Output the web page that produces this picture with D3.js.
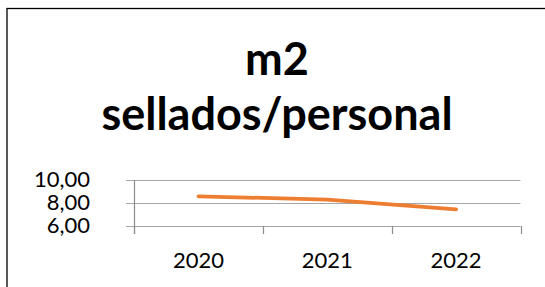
<!DOCTYPE html>
<html>
<head>
<meta charset="utf-8">
<script src="https://cdn.jsdelivr.net/npm/d3@7"></script>
<style>
  body { margin: 0; background: #fff; }
  text { font-family: Lato, "Liberation Sans", sans-serif; fill: #000; }
</style>
</head>
<body>
<div id="body"></div>
<script>
var years = ["2020", "2021", "2022"];
var values = [8.58, 8.3, 7.45];
var yTicks = [6, 8, 10];
var titleLines = ["m2", "sellados/personal"];

var width = 545;
var height = 287;
var plot = { left: 134, right: 520.5, top: 180, bottom: 226 };

var svg = d3.select("#body")
  .append("svg")
  .attr("width", width)
  .attr("height", height);

svg.append("rect")
  .attr("x", 7)
  .attr("y", 8.5)
  .attr("width", 600)
  .attr("height", 400)
  .attr("fill", "#fff")
  .attr("stroke", "#000")
  .attr("stroke-width", 1.3);

// title
svg.append("g")
  .selectAll("text")
  .data(titleLines)
  .enter()
  .append("text")
  .attr("x", 277)
  .attr("y", function(d, i) { return 75 + i * 55; })
  .attr("text-anchor", "middle")
  .attr("font-weight", "bold")
  .attr("font-size", 45)
  .text(function(d) { return d; });

var x = d3.scaleBand()
  .domain(years)
  .range([plot.left, plot.right]);

var y = d3.scaleLinear()
  .domain([6, 10])
  .range([plot.bottom, plot.top]);

var grid = "#a6a6a6";

// gridlines
svg.append("g")
  .selectAll("line")
  .data(yTicks)
  .enter()
  .append("line")
  .attr("x1", plot.left - 8)
  .attr("x2", plot.right)
  .attr("y1", function(d) { return Math.round(y(d)) + 0.5; })
  .attr("y2", function(d) { return Math.round(y(d)) + 0.5; })
  .attr("stroke", grid)
  .attr("stroke-width", 1.2);

// y axis line
svg.append("line")
  .attr("x1", plot.left + 0.5)
  .attr("x2", plot.left + 0.5)
  .attr("y1", y(10))
  .attr("y2", y(6) + 8)
  .attr("stroke", "#8c8c8c")
  .attr("stroke-width", 1.2);

// x tick marks at band edges
var edges = years.map(function(d) { return x(d); }).concat([plot.right]);
svg.append("g")
  .selectAll("line")
  .data(edges)
  .enter()
  .append("line")
  .attr("x1", function(d) { return Math.round(d) + 0.5; })
  .attr("x2", function(d) { return Math.round(d) + 0.5; })
  .attr("y1", Math.round(y(6)))
  .attr("y2", Math.round(y(6)) + 8)
  .attr("stroke", "#8c8c8c")
  .attr("stroke-width", 1.2);

// y labels
svg.append("g")
  .selectAll("text")
  .data(yTicks)
  .enter()
  .append("text")
  .attr("x", 90)
  .attr("y", function(d) { return y(d); })
  .attr("dy", "0.34em")
  .attr("text-anchor", "end")
  .attr("font-size", 22)
  .text(function(d) { return d3.format(".2f")(d).replace(".", ","); });

// x labels
svg.append("g")
  .selectAll("text")
  .data(years)
  .enter()
  .append("text")
  .attr("x", function(d) { return x(d) + x.bandwidth() / 2; })
  .attr("y", 268)
  .attr("text-anchor", "middle")
  .attr("font-size", 22)
  .text(function(d) { return d; });

// series line
var line = d3.line()
  .x(function(d, i) { return x(years[i]) + x.bandwidth() / 2; })
  .y(function(d) { return y(d); });

svg.append("path")
  .datum(values)
  .attr("d", line)
  .attr("fill", "none")
  .attr("stroke", "#ED7D31")
  .attr("stroke-width", 3.75)
  .attr("stroke-linecap", "round")
  .attr("stroke-linejoin", "round");
</script>
</body>
</html>
